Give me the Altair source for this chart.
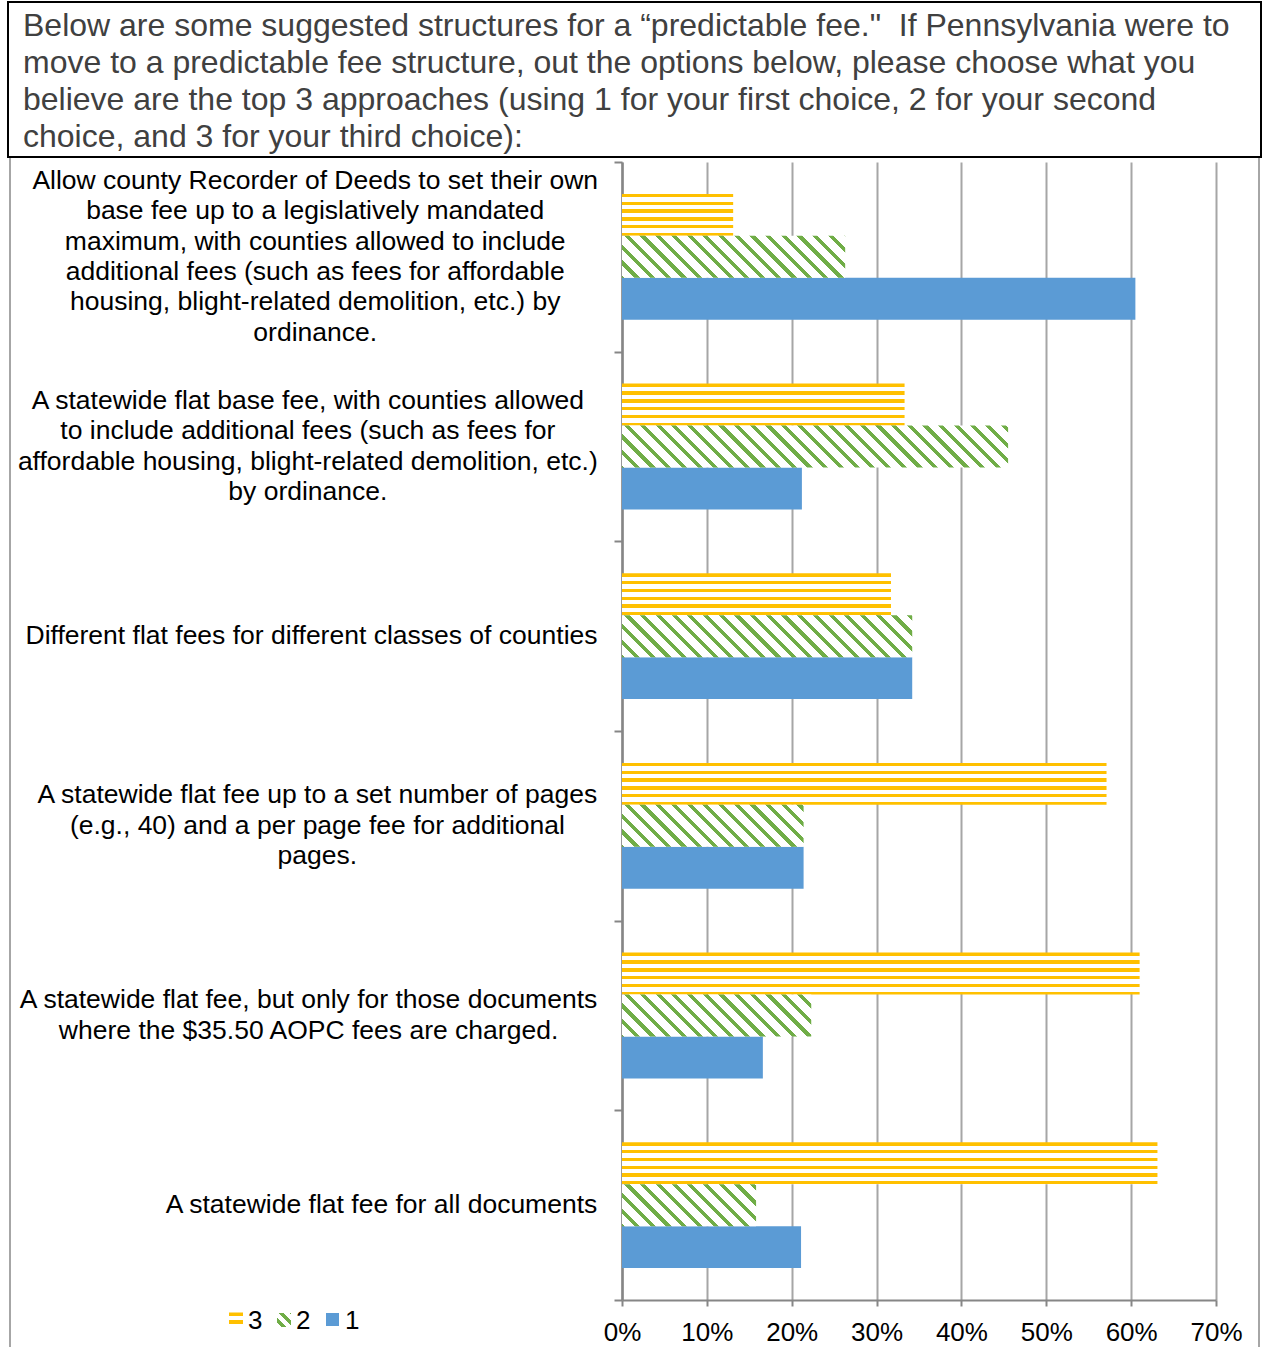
import altair as alt
import pandas as pd

# ---------------- data ----------------
category_keys = ["c1", "c2", "c3", "c4", "c5", "c6"]
category_labels = [
    ["Allow county Recorder of Deeds to set their own",
     "base fee up to a legislatively mandated",
     "maximum, with counties allowed to include",
     "additional fees (such as fees for affordable",
     "housing, blight-related demolition, etc.) by",
     "ordinance."],
    ["A statewide flat base fee, with counties allowed",
     "to include additional fees (such as fees for",
     "affordable housing, blight-related demolition, etc.)",
     "by ordinance."],
    ["Different flat fees for different classes of counties"],
    ["A statewide flat fee up to a set number of pages",
     "(e.g., 40) and a per page fee for additional",
     "pages."],
    ["A statewide flat fee, but only for those documents",
     "where the $35.50 AOPC fees are charged."],
    ["A statewide flat fee for all documents"],
]
series_order = ["3", "2", "1"]
share_choice3 = [0.131, 0.333, 0.317, 0.571, 0.610, 0.631]
share_choice2 = [0.263, 0.455, 0.342, 0.214, 0.223, 0.158]
share_choice1 = [0.605, 0.212, 0.342, 0.214, 0.166, 0.211]
x_tick_values = [0.0, 0.1, 0.2, 0.3, 0.4, 0.5, 0.6, 0.7]
title_lines = [
    "Below are some suggested structures for a \u201cpredictable fee.\"\u00a0 If Pennsylvania were to",
    "move to a predictable fee structure, out the options below, please choose what you",
    "believe are the top 3 approaches (using 1 for your first choice, 2 for your second",
    "choice, and 3 for your third choice):",
]

# ---------------- layout / style ----------------
PLOT_W, PLOT_H = 594, 1138
PAD_L, PAD_T, PAD_R, PAD_B = 622, 162, 46, 47
FONT = "Liberation Sans"
YELLOW, GREEN, BLUE = "#FFC000", "#70AD47", "#5B9BD5"
GRID = "#A6A6A6"
AXIS = "#868686"
X_MAX = 0.7
OUTER_PAD = 0.76
BAND = PLOT_H / len(category_keys)
BAR_H = BAND / (len(series_order) + 2 * OUTER_PAD)
LABEL_FS = 26.5
LABEL_LH = 30.4

# Arial / Liberation Sans advance widths (per 1000 em)
_W = {" ": 278, "!": 278, '"': 355, "$": 556, "%": 889, "'": 191, "(": 333, ")": 333,
      ",": 278, "-": 333, ".": 278, "/": 278, ":": 278, ";": 278,
      "A": 667, "B": 667, "C": 722, "D": 722, "E": 667, "F": 611, "G": 778, "H": 722,
      "I": 278, "J": 500, "K": 667, "L": 556, "M": 833, "N": 722, "O": 778, "P": 667,
      "Q": 778, "R": 722, "S": 667, "T": 611, "U": 722, "V": 667, "W": 944, "X": 667,
      "Y": 667, "Z": 611,
      "a": 556, "b": 556, "c": 500, "d": 556, "e": 556, "f": 278, "g": 556, "h": 556,
      "i": 222, "j": 222, "k": 500, "l": 222, "m": 833, "n": 556, "o": 556, "p": 556,
      "q": 556, "r": 333, "s": 500, "t": 278, "u": 556, "v": 500, "w": 722, "x": 500,
      "y": 500, "z": 500}


def text_width(s, fs):
    return sum(_W.get(ch, 556) for ch in s) / 1000.0 * fs


def hstripes(color, h, period, thick):
    stops = []
    y = 0.0
    while y < h - 1e-6:
        a = y / h
        b = min(y + thick, h) / h
        c = min(y + period, h) / h
        stops += [{"offset": a, "color": color}, {"offset": b, "color": color},
                  {"offset": b, "color": "#FFFFFF"}, {"offset": c, "color": "#FFFFFF"}]
        y += period
    return {"gradient": "linear", "x1": 0, "y1": 0, "x2": 0, "y2": 1, "stops": stops}


def dstripes(color, w, h, period, thick, phase=0.0):
    L = w + h
    alpha = L / (w * w + h * h)
    stops = []
    s = -phase
    while s < L - 1e-6:
        a = max(s, 0.0) / L
        b = min(max(s + thick, 0.0), L) / L
        c = min(max(s + period, 0.0), L) / L
        stops += [{"offset": a, "color": color}, {"offset": b, "color": color},
                  {"offset": b, "color": "#FFFFFF"}, {"offset": c, "color": "#FFFFFF"}]
        s += period
    return {"gradient": "linear", "x1": 0, "y1": 1, "x2": alpha * w,
            "y2": 1 - alpha * h, "stops": stops}


# ---------------- table ----------------
rows = []
for i, k in enumerate(category_keys):
    rows.append({"cat": k, "series": "3", "value": share_choice3[i]})
    rows.append({"cat": k, "series": "2", "value": share_choice2[i]})
    rows.append({"cat": k, "series": "1", "value": share_choice1[i]})
df = pd.DataFrame(rows)

y_enc = alt.Y("cat:N",
              scale=alt.Scale(domain=category_keys, paddingInner=0, paddingOuter=0),
              axis=alt.Axis(labels=False, title=None, grid=False, domainColor=AXIS,
                            domainWidth=2.5, tickColor=AXIS, tickWidth=2, tickSize=8,
                            tickBand="extent"))
yoff_enc = alt.YOffset("series:N",
                       scale=alt.Scale(domain=series_order, paddingInner=0,
                                       paddingOuter=OUTER_PAD))
x_enc = alt.X("value:Q", scale=alt.Scale(domain=[0, X_MAX], nice=False, zero=True),
              axis=alt.Axis(values=x_tick_values, format=".0%", title=None, grid=True,
                            gridColor=GRID, gridWidth=2, domainColor=AXIS, domainWidth=2,
                            tickColor=AXIS, tickWidth=2, tickSize=6, labelPadding=13,
                            labelFont=FONT, labelFontSize=26, labelColor="#000000",
                            labelFlush=False))

one = alt.Data(values=[{"k": 0}])

layers = []
# outer chart frame (gray)
for xv in (10 - PAD_L, 1259 - PAD_L):
    layers.append(alt.Chart(one).mark_rule(color=GRID, strokeWidth=2).encode(
        x=alt.value(xv), y=alt.value(157 - PAD_T), y2=alt.value(1347 - PAD_T + 5)))
# title box
layers.append(alt.Chart(one).mark_rect(fill="#FFFFFF", stroke="#000000", strokeWidth=2).encode(
    x=alt.value(8 - PAD_L), x2=alt.value(1261 - PAD_L),
    y=alt.value(2 - PAD_T), y2=alt.value(157 - PAD_T)))
layers.append(alt.Chart(one).mark_text(
    text=title_lines, align="left", baseline="alphabetic", font=FONT, fontSize=32,
    lineHeight=37, color="#404040").encode(x=alt.value(23 - PAD_L), y=alt.value(36 - PAD_T)))

# bars: choice 1 (solid blue)
layers.append(alt.Chart(df).transform_filter(alt.datum.series == "1").mark_bar(
    fill=BLUE).encode(x=x_enc, y=y_enc, yOffset=yoff_enc))
# bars: choice 3 (yellow horizontal stripes)
layers.append(alt.Chart(df).transform_filter(alt.datum.series == "3").mark_bar(
    fill=hstripes(YELLOW, BAR_H, 7.8, 3.4)).encode(x=x_enc, y=y_enc, yOffset=yoff_enc))
# bars: choice 2 (green diagonal stripes), one layer per bar for stripe geometry
for i, k in enumerate(category_keys):
    w = share_choice2[i] / X_MAX * PLOT_W
    layers.append(alt.Chart(df).transform_filter(
        (alt.datum.series == "2") & (alt.datum.cat == k)).mark_bar(
        fill=dstripes(GREEN, w, BAR_H, 15.7, 5.2, phase=3.0)).encode(
        x=x_enc, y=y_enc, yOffset=yoff_enc))

# category labels (block right-aligned, lines centered, block vertically centered)
for i, k in enumerate(category_keys):
    lines = category_labels[i]
    maxw = max(text_width(s, LABEL_FS) for s in lines)
    cx = (598 - PAD_L) - maxw / 2.0
    layers.append(alt.Chart(alt.Data(values=[{"cat": k}])).mark_text(
        text=lines, align="center", baseline="middle", font=FONT, fontSize=LABEL_FS,
        lineHeight=LABEL_LH, color="#000000",
        dy=-(len(lines) - 1) / 2.0 * LABEL_LH).encode(y=alt.Y("cat:N"), x=alt.value(cx)))

# legend
leg_y0 = 1312.5 - PAD_T
layers.append(alt.Chart(one).mark_rect(
    fill={"gradient": "linear", "x1": 0, "y1": 0, "x2": 0, "y2": 1,
          "stops": [{"offset": 0, "color": YELLOW}, {"offset": 0.3, "color": YELLOW},
                    {"offset": 0.3, "color": "#FFFFFF"}, {"offset": 0.65, "color": "#FFFFFF"},
                    {"offset": 0.65, "color": YELLOW}, {"offset": 1, "color": YELLOW}]}).encode(
    x=alt.value(229 - PAD_L), x2=alt.value(243 - PAD_L),
    y=alt.value(leg_y0), y2=alt.value(leg_y0 + 11.5)))
layers.append(alt.Chart(one).mark_rect(fill=dstripes(GREEN, 14, 14, 11, 4.5, phase=6)).encode(
    x=alt.value(277 - PAD_L), x2=alt.value(291 - PAD_L),
    y=alt.value(1313 - PAD_T), y2=alt.value(1327 - PAD_T)))
layers.append(alt.Chart(one).mark_rect(fill=BLUE).encode(
    x=alt.value(326 - PAD_L), x2=alt.value(339 - PAD_L),
    y=alt.value(1313 - PAD_T), y2=alt.value(1326 - PAD_T)))
for name, lx in zip(series_order, (248, 296, 345)):
    layers.append(alt.Chart(one).mark_text(
        text=name, align="left", baseline="alphabetic", font=FONT, fontSize=26,
        color="#000000").encode(x=alt.value(lx - PAD_L), y=alt.value(1329 - PAD_T)))

chart = alt.layer(*layers).properties(
    width=PLOT_W, height=PLOT_H,
    autosize=alt.AutoSizeParams(type="none"),
    padding={"left": PAD_L, "top": PAD_T, "right": PAD_R, "bottom": PAD_B},
    background="#FFFFFF",
).configure_view(strokeWidth=0)

chart.save("out.html", embed_options={"renderer": "svg", "actions": False})
